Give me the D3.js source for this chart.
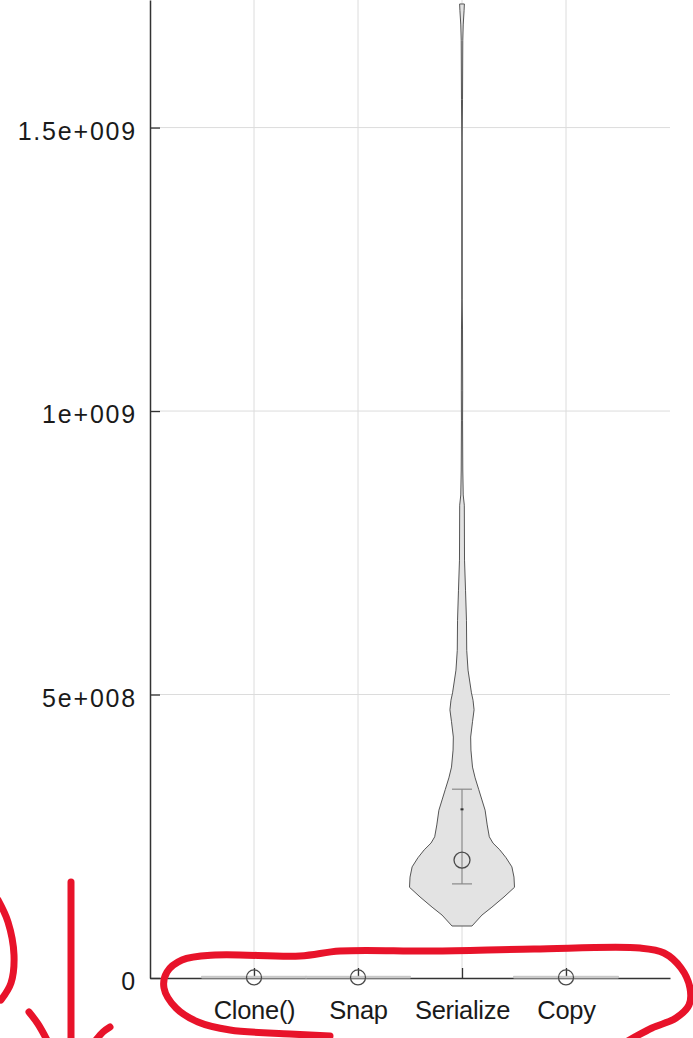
<!DOCTYPE html>
<html>
<head>
<meta charset="utf-8">
<script src="https://cdn.jsdelivr.net/npm/d3@7"></script>
<style>
  body { margin: 0; background: #fff; }
  svg { display: block; }
</style>
</head>
<body>
<svg id="chart"></svg>
<script>
// categories on the x axis
const categories = ['Clone()', 'Snap', 'Serialize', 'Copy']

// y ticks and their labels (octave style exponent)
const yTicks = [0, 5e8, 1e9, 1.5e9]
const yTickLabels = ['0', '5e+008', '1e+009', '1.5e+009']

// mean / error bar / median per category
const means   = [1e6, 1e6, 2.08e8, 1e6]
const errLow  = [null, null, 1.66e8, null]
const errHigh = [null, null, 3.33e8, null]
const medians = [null, null, 2.975e8, null]

// violin profile of Serialize: value and relative density (1 = widest)
const serializeValues = [9.17e7, 1.11e8, 1.25e8, 1.43e8, 1.60e8, 1.78e8, 1.96e8, 2.12e8, 2.26e8, 2.38e8,
  2.49e8, 2.70e8, 2.96e8, 3.14e8, 3.32e8, 3.53e8, 3.72e8, 4.02e8, 4.25e8, 4.52e8,
  4.73e8, 4.90e8, 5.03e8, 5.43e8, 5.78e8, 6.31e8, 6.84e8, 7.37e8, 8.34e8, 8.52e8,
  8.96e8, 9.84e8, 1.037e9, 1.143e9, 1.196e9, 1.478e9, 1.549e9, 1.654e9, 1.681e9, 1.707e9, 1.718e9]
const serializeDensity = [0.19, 0.38, 0.57, 0.80, 1.00, 0.99, 0.95, 0.84, 0.72, 0.59,
  0.52, 0.48, 0.44, 0.38, 0.32, 0.25, 0.20, 0.17, 0.165, 0.20,
  0.23, 0.21, 0.18, 0.115, 0.09, 0.085, 0.067, 0.048, 0.044, 0.023,
  0.015, 0.011, 0.013, 0.01, 0.004, 0.003, 0.01, 0.015, 0.023, 0.04, 0.045]

// the other three are all ~0, so the violin is just a flat strip
const flatValues = [0, 3e6]
const flatDensity = [1, 1]

const width = 693
const height = 1038
const margin = {left: 150, right: 23, top: 0, bottom: 60}

let svg = d3.select('#chart').attr('width', width).attr('height', height)

let x = d3.scalePoint()
    .domain(categories)
    .range([margin.left, width - margin.right])
    .padding(1)

let y = d3.scaleLinear()
    .domain([0, 1.725e9])
    .range([height - margin.bottom, margin.top])

let halfW = d3.scaleLinear().domain([0, 1]).range([0, 52.5])

//grid
let grid = svg.append('g').attr('class', 'grid')
grid.selectAll('line.h')
    .data(yTicks.slice(1))
    .enter().append('line')
    .attr('class', 'h')
    .attr('x1', margin.left).attr('x2', width - margin.right)
    .attr('y1', d => y(d)).attr('y2', d => y(d))
    .attr('stroke', '#dcdcdc')
grid.selectAll('line.v')
    .data(categories)
    .enter().append('line')
    .attr('class', 'v')
    .attr('x1', d => x(d)).attr('x2', d => x(d))
    .attr('y1', y(0)).attr('y2', margin.top)
    .attr('stroke', '#dcdcdc')

//axes
let yAxis = d3.axisLeft(y)
    .tickValues(yTicks)
    .tickFormat((d, i) => yTickLabels[i])
    .tickSizeInner(-10)
    .tickSizeOuter(0)
    .tickPadding(13)

let xAxis = d3.axisBottom(x)
    .tickSizeInner(-10)
    .tickSizeOuter(0)
    .tickPadding(23)

let gy = svg.append('g')
    .attr('transform', `translate(${margin.left},0)`)
    .call(yAxis)
gy.selectAll('text')
    .attr('dy', '0.47em')
    .style('font-family', '"Liberation Sans", Arial, sans-serif')
    .style('font-size', '25px')
    .style('letter-spacing', '1.8px')
    .attr('fill', '#1a1a1a')

let gx = svg.append('g')
    .attr('transform', `translate(0,${y(0)})`)
    .call(xAxis)
gx.selectAll('text')
    .style('font-family', '"Liberation Sans", Arial, sans-serif')
    .style('font-size', '25.5px')
    .style('letter-spacing', '-0.3px')
    .attr('fill', '#1a1a1a')

svg.selectAll('.domain').attr('stroke', '#333').attr('stroke-width', 1.5)
svg.selectAll('.tick line').attr('stroke', '#333').attr('stroke-width', 1.3)

//violins
let violin = (cx) => d3.area()
    .y(d => y(d.v))
    .x0(d => cx - halfW(d.w))
    .x1(d => cx + halfW(d.w))
    .curve(d3.curveLinear)

let violins = categories.map(c => {
    let vals = c === 'Serialize' ? serializeValues : flatValues
    let dens = c === 'Serialize' ? serializeDensity : flatDensity
    return {cat: c, pts: vals.map((v, i) => ({v: v, w: dens[i]}))}
})

let gv = svg.append('g').attr('class', 'violins')
gv.selectAll('path')
    .data(violins)
    .enter().append('path')
    .attr('d', d => violin(x(d.cat))(d.pts))
    .attr('fill', d => d.cat === 'Serialize' ? '#e3e3e3' : '#cfcfcf')
    .attr('stroke', d => d.cat === 'Serialize' ? '#555' : '#c4c4c4')
    .attr('stroke-width', 1)

//error bars
let stats = categories.map((c, i) => ({cat: c, mean: means[i], lo: errLow[i], hi: errHigh[i], med: medians[i]}))
let withErr = stats.filter(d => d.lo !== null)

let ge = svg.append('g').attr('class', 'errors').attr('stroke', '#8a8a8a').attr('stroke-width', 1.2)
ge.selectAll('line.stem').data(withErr).enter().append('line')
    .attr('x1', d => x(d.cat)).attr('x2', d => x(d.cat))
    .attr('y1', d => y(d.lo)).attr('y2', d => y(d.hi))
ge.selectAll('line.lo').data(withErr).enter().append('line')
    .attr('x1', d => x(d.cat) - 10).attr('x2', d => x(d.cat) + 10)
    .attr('y1', d => y(d.lo)).attr('y2', d => y(d.lo))
ge.selectAll('line.hi').data(withErr).enter().append('line')
    .attr('x1', d => x(d.cat) - 10).attr('x2', d => x(d.cat) + 10)
    .attr('y1', d => y(d.hi)).attr('y2', d => y(d.hi))

svg.append('g').selectAll('rect')
    .data(withErr)
    .enter().append('rect')
    .attr('x', d => x(d.cat) - 1.5).attr('y', d => y(d.med) - 1)
    .attr('width', 3).attr('height', 2)
    .attr('fill', '#333')

//mean markers
svg.append('g').selectAll('circle')
    .data(stats)
    .enter().append('circle')
    .attr('cx', d => x(d.cat))
    .attr('cy', d => y(d.mean))
    .attr('r', d => d.cat === 'Serialize' ? 8 : 7.5)
    .attr('fill', 'none')
    .attr('stroke', '#4a4a4a')
    .attr('stroke-width', 1.3)

// red hand drawn marks on top of the screenshot
const annotations = [
    [[330,1036],[290,1034],[230,1030],[198,1022],[176,1008],[164,988],[167,972],[182,960],[215,955],[300,956],[340,951],[432,951],[534,949],[640,948],[664,953],[681,968],[690,988],[689,1005],[676,1018],[652,1028],[626,1042]],
    [[-2,900],[8,922],[14,955],[11,983],[1,1000]],
    [[71,882],[71,1040]],
    [[29,1012],[38,1024],[47,1040]],
    [[110,1027],[103,1032],[96,1040]]
]
let pen = d3.line().curve(d3.curveCatmullRom)
svg.append('g').attr('class', 'annot').selectAll('path')
    .data(annotations)
    .enter().append('path')
    .attr('d', pen)
    .attr('fill', 'none')
    .attr('stroke', '#e8132a')
    .attr('stroke-width', 7)
    .attr('stroke-linecap', 'round')
    .attr('stroke-linejoin', 'round')
</script>
</body>
</html>
